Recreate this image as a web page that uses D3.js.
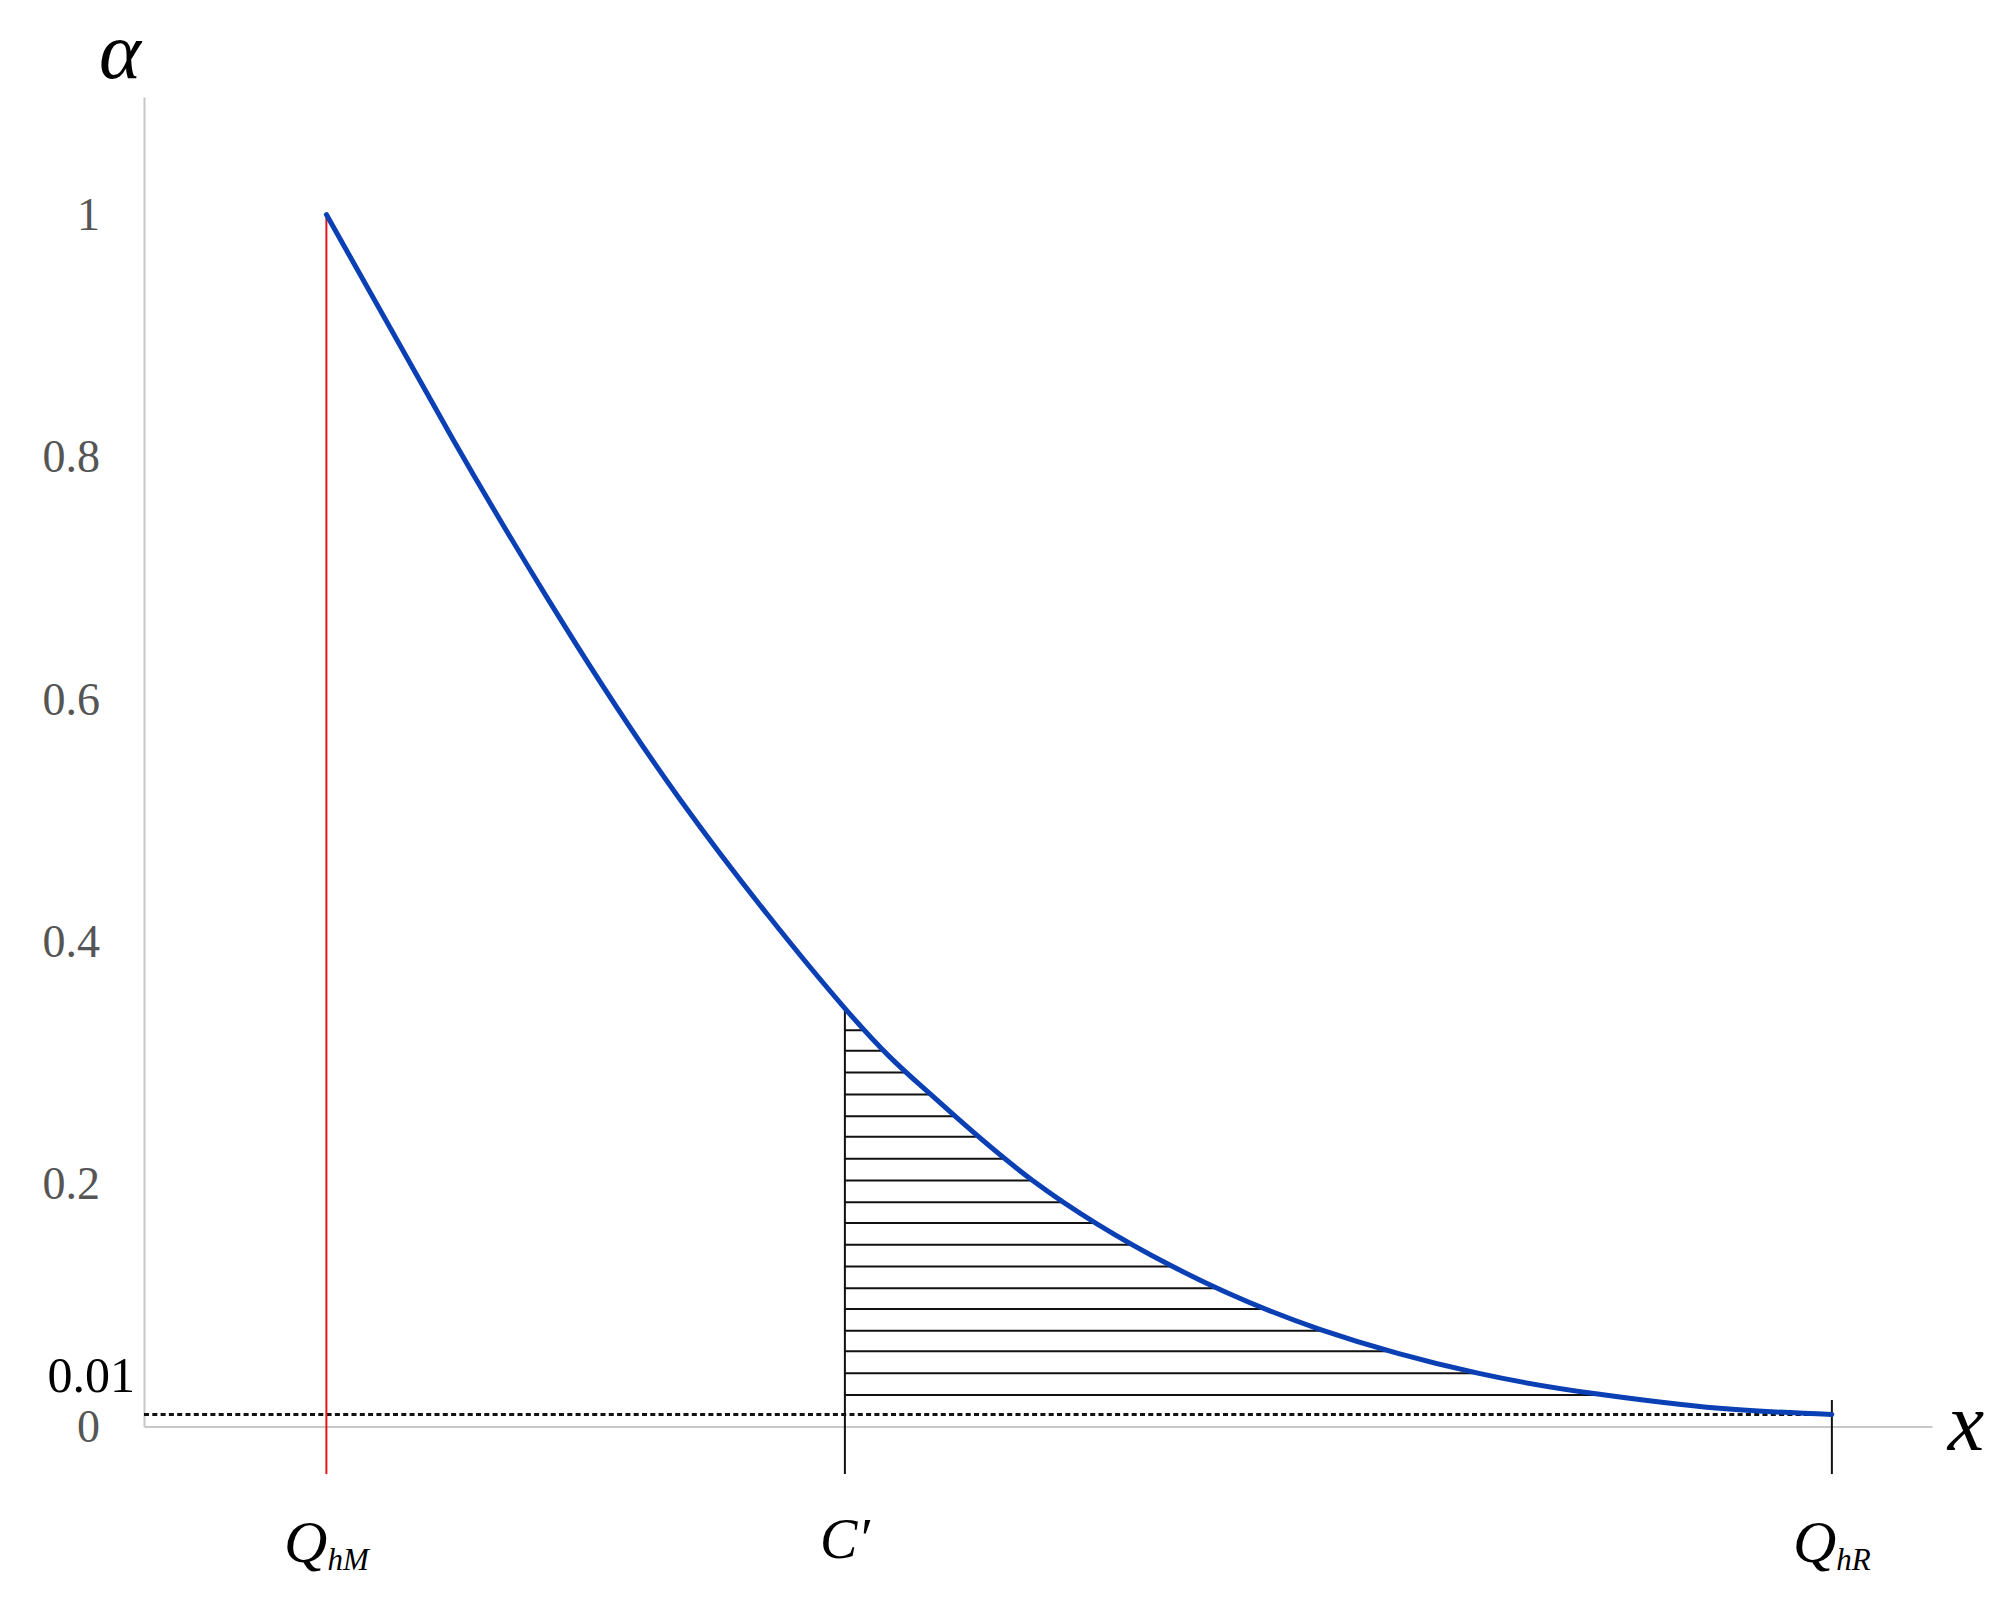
<!DOCTYPE html>
<html>
<head>
<meta charset="utf-8">
<script src="https://cdn.jsdelivr.net/npm/d3@7"></script>
<style>
  body { margin: 0; background: #fff; }
  svg { display: block; }
</style>
</head>
<body>
<div id="chart"></div>
<script>
var W = 2016, H = 1621;

// curve alpha(x) (x in arbitrary units 0..100)
var curveX = [10.2, 17.3, 22.5, 30.0, 39.2, 44.0, 49.7, 57.4, 65.8, 74.6, 81.2, 88.1, 94.4];
var curveA = [1.000, 0.814, 0.685, 0.517, 0.345, 0.274, 0.203, 0.133, 0.080, 0.044, 0.027, 0.015, 0.010];

// marked positions on the x axis
var markNames = ["QhM", "C", "QhR"];
var markX     = [10.2, 39.2, 94.4];

// hatch levels under the curve, right of C'
var hatchA = [0.327, 0.310, 0.292, 0.274, 0.256, 0.239, 0.221, 0.203, 0.185,
              0.168, 0.150, 0.132, 0.114, 0.097, 0.079, 0.062, 0.044, 0.026];

var yTicks = [0, 0.2, 0.4, 0.6, 0.8, 1];
var threshold = 0.01;

var data = curveX.map(function(d, i) { return {x: d, a: curveA[i]} });

var x = d3.scaleLinear().domain([0, 100]).range([144, 1932]);
var y = d3.scaleLinear().domain([0, 1.097]).range([1426.5, 97]);

var serif = "'Liberation Serif', 'Times New Roman', serif";

var svg = d3.select("#chart")
	.append("svg")
	.attr("width", W)
	.attr("height", H);

// y axis with grey labels
var yAxis = svg.append("g")
	.attr("transform", "translate(" + x(0) + ",0)")
	.call(d3.axisLeft(y).tickValues(yTicks).tickSize(0).tickPadding(44)
		.tickFormat(function(d) { return d3.format("~g")(d) }))
yAxis.select(".domain").attr("stroke", "#c8c8c8").attr("stroke-width", 2)
yAxis.selectAll("text")
	.attr("font-family", serif)
	.attr("font-size", 46)
	.attr("fill", "#555")

// x axis, only the line
var xAxis = svg.append("g")
	.attr("transform", "translate(0," + y(0) + ")")
	.call(d3.axisBottom(x).tickValues([]).tickSizeOuter(0))
xAxis.select(".domain").attr("stroke", "#c8c8c8").attr("stroke-width", 2)

// 0.01 label, nudged above the zero label
svg.append("text")
	.attr("x", 135)
	.attr("y", y(threshold) - 38)
	.attr("dy", "0.32em")
	.attr("text-anchor", "end")
	.attr("font-family", serif)
	.attr("font-size", 50)
	.attr("fill", "#000")
	.text("0.01")

var curveType = d3.curveNatural;

// clip = area under the curve
var area = d3.area()
	.x(function(d) { return x(d.x) })
	.y0(y(0))
	.y1(function(d) { return y(d.a) })
	.curve(curveType)

svg.append("clipPath")
	.attr("id", "under")
	.append("path")
	.attr("d", area(data))

svg.append("g")
	.attr("clip-path", "url(#under)")
	.selectAll("line")
	.data(hatchA)
	.enter()
	.append("line")
	.attr("x1", x(markX[1]))
	.attr("x2", x(markX[2]))
	.attr("y1", function(d) { return y(d) })
	.attr("y2", function(d) { return y(d) })
	.attr("stroke", "#111")
	.attr("stroke-width", 2)

// dotted 0.01 line
svg.append("line")
	.attr("x1", x(0))
	.attr("x2", x(markX[2]))
	.attr("y1", y(threshold))
	.attr("y2", y(threshold))
	.attr("stroke", "#111")
	.attr("stroke-width", 3)
	.attr("stroke-dasharray", "5,3.3")

// vertical markers
var tickBottom = 1474;
svg.append("line") // Q_hM, red, up to alpha = 1
	.attr("x1", x(markX[0])).attr("x2", x(markX[0]))
	.attr("y1", y(1)).attr("y2", tickBottom)
	.attr("stroke", "#e8141b")
	.attr("stroke-width", 2)
svg.append("line") // C', up to the curve
	.attr("x1", x(markX[1])).attr("x2", x(markX[1]))
	.attr("y1", y(curveA[curveX.indexOf(markX[1])])).attr("y2", tickBottom)
	.attr("stroke", "#111")
	.attr("stroke-width", 2)
svg.append("line") // Q_hR, short tick
	.attr("x1", x(markX[2])).attr("x2", x(markX[2]))
	.attr("y1", 1400).attr("y2", tickBottom)
	.attr("stroke", "#111")
	.attr("stroke-width", 2)

// the curve
var line = d3.line()
	.x(function(d) { return x(d.x) })
	.y(function(d) { return y(d.a) })
	.curve(curveType)

svg.append("path")
	.attr("d", line(data))
	.attr("fill", "none")
	.attr("stroke", "#0b3fb4")
	.attr("stroke-width", 5)
	.attr("stroke-linecap", "round")

// marker labels
var labelY = 1562;
function qLabel(xv, sub) {
	var t = svg.append("text")
		.attr("x", x(xv))
		.attr("y", labelY)
		.attr("text-anchor", "middle")
		.attr("font-family", serif)
		.attr("font-style", "italic")
		.attr("fill", "#000")
	t.append("tspan").attr("font-size", 60).text("Q")
	t.append("tspan").attr("font-size", 31).attr("dy", 8).text(sub)
}
qLabel(markX[0], "hM")
qLabel(markX[2], "hR")

svg.append("text")
	.attr("x", x(markX[1]))
	.attr("y", labelY - 4)
	.attr("text-anchor", "middle")
	.attr("font-family", serif)
	.attr("font-style", "italic")
	.attr("font-size", 56)
	.attr("fill", "#000")
	.text("C\u2032")

// axis titles
svg.append("text")
	.attr("x", 120)
	.attr("y", 78)
	.attr("text-anchor", "middle")
	.attr("font-family", serif)
	.attr("font-style", "italic")
	.attr("font-size", 80)
	.attr("fill", "#000")
	.text("\u03b1")

svg.append("text")
	.attr("x", 1966)
	.attr("y", 1450)
	.attr("text-anchor", "middle")
	.attr("font-family", serif)
	.attr("font-style", "italic")
	.attr("font-size", 82)
	.attr("fill", "#000")
	.text("x")
</script>
</body>
</html>
